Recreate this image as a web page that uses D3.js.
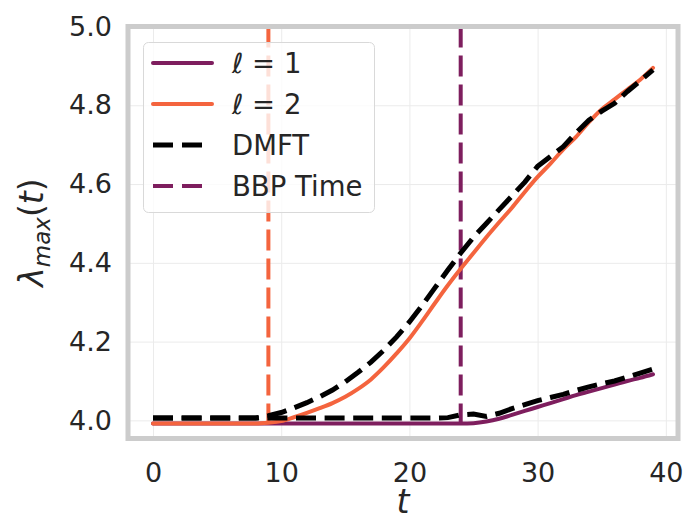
<!DOCTYPE html>
<html>
<head>
<meta charset="utf-8">
<script src="https://cdn.jsdelivr.net/npm/d3@7"></script>
<style>
  body { margin: 0; background: #fff; }
  text { font-family: "DejaVu Sans", sans-serif; fill: #262626; }
</style>
</head>
<body>
<div id="chart"></div>
<script>
const width = 689;
const height = 521;

// plot area (frame centre line)
const plotLeft = 128, plotRight = 678, plotTop = 26.5, plotBottom = 438.5;

// ---- data ----
const times = d3.range(0, 40);
const lambdaL1 = [3.992,3.992,3.992,3.992,3.992,3.992,3.992,3.992,3.992,3.992,
                  3.992,3.992,3.992,3.992,3.992,3.992,3.992,3.992,3.992,3.992,
                  3.992,3.992,3.992,3.992,3.992,3.993,3.997,4.004,4.014,4.024,
                  4.034,4.044,4.054,4.064,4.073,4.082,4.091,4.100,4.108,4.117];
const lambdaL2 = [3.992,3.992,3.992,3.992,3.992,3.992,3.992,3.992,3.992,3.994,
                  3.998,4.008,4.019,4.031,4.044,4.060,4.080,4.104,4.135,4.170,
                  4.208,4.252,4.298,4.343,4.385,4.425,4.465,4.503,4.540,4.580,
                  4.618,4.652,4.688,4.720,4.757,4.790,4.815,4.840,4.865,4.895];
const dmftL1 = [4.006,4.006,4.006,4.006,4.006,4.006,4.006,4.006,4.006,4.006,
                4.006,4.006,4.006,4.006,4.006,4.006,4.006,4.006,4.006,4.006,
                4.006,4.006,4.006,4.007,4.014,4.016,4.010,4.018,4.030,4.040,
                4.050,4.058,4.066,4.076,4.085,4.093,4.100,4.110,4.120,4.130];
const dmftL2 = [4.006,4.006,4.006,4.006,4.006,4.006,4.006,4.006,4.006,4.012,
                4.020,4.032,4.045,4.060,4.077,4.098,4.122,4.148,4.178,4.212,
                4.250,4.292,4.337,4.382,4.425,4.465,4.500,4.535,4.570,4.605,
                4.645,4.670,4.695,4.730,4.762,4.785,4.805,4.835,4.862,4.890];
const bbpTimes = [9, 24];
const xTicks = [0, 10, 20, 30, 40];
const yTicks = [4.0, 4.2, 4.4, 4.6, 4.8, 5.0];

const purple = "#7e1e5e";
const orange = "#f4643e";

const svg = d3.select("#chart").append("svg")
    .attr("width", width)
    .attr("height", height);

const xScale = d3.scaleLinear().domain([-1.95, 40.95]).range([plotLeft, plotRight]);
const yScale = d3.scaleLinear().domain([3.954, 5.0]).range([plotBottom, plotTop]);

// grid
svg.append("g")
    .attr("transform", "translate(0," + plotBottom + ")")
    .call(d3.axisBottom(xScale).tickValues(xTicks).tickSize(-(plotBottom - plotTop)).tickFormat(""))
    .call(g => g.select(".domain").remove())
    .call(g => g.selectAll("line").attr("stroke", "#ebebeb").attr("stroke-width", 1));

svg.append("g")
    .attr("transform", "translate(" + plotLeft + ",0)")
    .call(d3.axisLeft(yScale).tickValues(yTicks).tickSize(-(plotRight - plotLeft)).tickFormat(""))
    .call(g => g.select(".domain").remove())
    .call(g => g.selectAll("line").attr("stroke", "#ebebeb").attr("stroke-width", 1));

// tick labels
svg.append("g")
    .attr("transform", "translate(0," + plotBottom + ")")
    .call(d3.axisBottom(xScale).tickValues(xTicks).tickSize(0).tickPadding(24))
    .call(g => g.select(".domain").remove())
    .call(g => g.selectAll("text")
        .style("font-size", "27px")
        .style("font-family", "DejaVu Sans")
        .attr("fill", "#262626"));

svg.append("g")
    .attr("transform", "translate(" + plotLeft + ",0)")
    .call(d3.axisLeft(yScale).tickValues(yTicks).tickSize(0).tickPadding(16)
        .tickFormat(d3.format(".1f")))
    .call(g => g.select(".domain").remove())
    .call(g => g.selectAll("text")
        .style("font-size", "27px")
        .style("font-family", "DejaVu Sans")
        .attr("fill", "#262626"));

// BBP time lines
svg.selectAll(".bbp")
    .data(bbpTimes)
    .enter()
    .append("line")
    .attr("class", "bbp")
    .attr("x1", d => xScale(d))
    .attr("x2", d => xScale(d))
    .attr("y1", yScale(5.0))
    .attr("y2", yScale(3.996))
    .attr("stroke", (d, i) => i === 0 ? orange : purple)
    .attr("stroke-width", 4)
    .attr("stroke-dasharray", "21,8");

const solid = d3.line()
    .x((d, i) => xScale(times[i]))
    .y(d => yScale(d))
    .curve(d3.curveMonotoneX);

const dashed = d3.line()
    .x((d, i) => xScale(times[i]))
    .y(d => yScale(d));

svg.append("path")
    .attr("d", solid(lambdaL1))
    .attr("fill", "none")
    .attr("stroke", purple)
    .attr("stroke-width", 4)
    .attr("stroke-linecap", "round");

svg.append("path")
    .attr("d", solid(lambdaL2))
    .attr("fill", "none")
    .attr("stroke", orange)
    .attr("stroke-width", 4)
    .attr("stroke-linecap", "round");

[dmftL1, dmftL2].forEach(function(s) {
    svg.append("path")
        .attr("d", dashed(s))
        .attr("fill", "none")
        .attr("stroke", "#000")
        .attr("stroke-width", 5)
        .attr("stroke-dasharray", "20,8.6");
});

// frame
svg.append("rect")
    .attr("x", plotLeft)
    .attr("y", plotTop)
    .attr("width", plotRight - plotLeft)
    .attr("height", plotBottom - plotTop)
    .attr("fill", "none")
    .attr("stroke", "#cccccc")
    .attr("stroke-width", 5);

// axis labels
svg.append("text")
    .attr("x", (plotLeft + plotRight) / 2)
    .attr("y", 513)
    .attr("text-anchor", "middle")
    .style("font-size", "33px")
    .style("font-style", "italic")
    .text("t");

const ylab = svg.append("text")
    .attr("transform", "translate(43," + ((plotTop + plotBottom) / 2) + ") rotate(-90)")
    .attr("text-anchor", "middle")
    .style("font-size", "33px");
ylab.append("tspan").style("font-style", "italic").text("λ");
ylab.append("tspan").style("font-style", "italic").style("font-size", "23px")
    .attr("dy", 7).text("max");
ylab.append("tspan").attr("dy", -7).text("(");
ylab.append("tspan").style("font-style", "italic").text("t");
ylab.append("tspan").text(")");

// legend
const legend = svg.append("g");
legend.append("rect")
    .attr("x", 143.5)
    .attr("y", 42.5)
    .attr("width", 231)
    .attr("height", 170)
    .attr("rx", 5)
    .attr("fill", "#fff")
    .attr("fill-opacity", 0.8)
    .attr("stroke", "#d9d9d9")
    .attr("stroke-width", 1);

const entries = [
    { label: ["ℓ", " = 1"], color: purple, dash: null, w: 4 },
    { label: ["ℓ", " = 2"], color: orange, dash: null, w: 4 },
    { label: ["", "DMFT"], color: "#000", dash: "20,9", w: 5 },
    { label: ["", "BBP Time"], color: purple, dash: "20,9", w: 4 }
];
const entryY = [63, 104, 145, 186];

entries.forEach(function(e, i) {
    legend.append("line")
        .attr("x1", 153).attr("x2", e.dash ? 211 : 212)
        .attr("y1", entryY[i]).attr("y2", entryY[i])
        .attr("stroke", e.color)
        .attr("stroke-width", e.w)
        .attr("stroke-linecap", e.dash ? "butt" : "round")
        .attr("stroke-dasharray", e.dash);
    const t = legend.append("text")
        .attr("x", 232)
        .attr("y", entryY[i])
        .attr("dy", "0.36em")
        .style("font-size", "27.5px");
    if (e.label[0]) t.append("tspan").style("font-style", "italic").text(e.label[0]);
    t.append("tspan").text(e.label[1]);
});
</script>
</body>
</html>
